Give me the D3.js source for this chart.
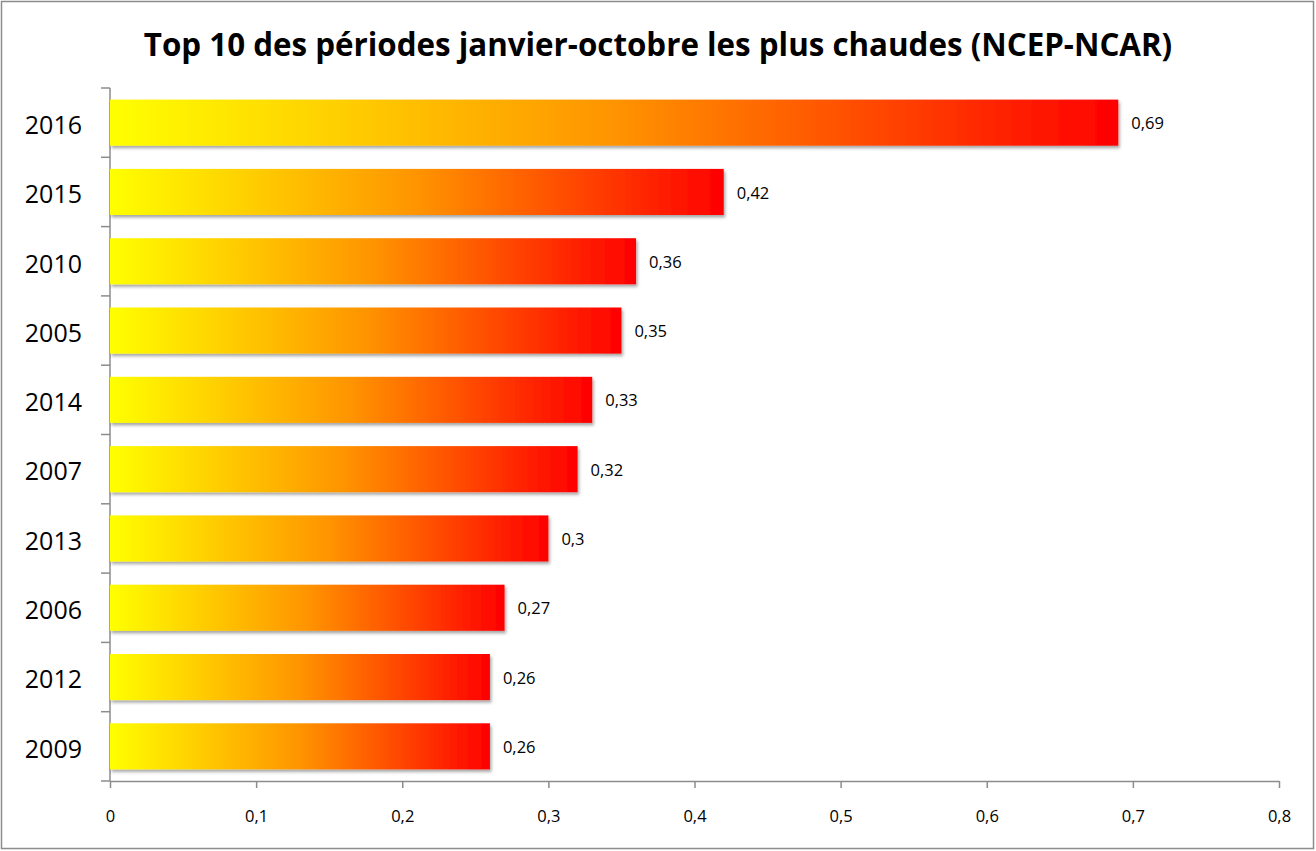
<!DOCTYPE html>
<html>
<head>
<meta charset="utf-8">
<script src="https://cdn.jsdelivr.net/npm/d3@7"></script>
<style>
  body { margin: 0; background: #fff; }
  text { font-family: "Open Sans", "Liberation Sans", sans-serif; fill: #000; }
</style>
</head>
<body>
<div class="chart"></div>
<script>
// data
const years = ['2016', '2015', '2010', '2005', '2014', '2007', '2013', '2006', '2012', '2009'];
const anomalies = [0.69, 0.42, 0.36, 0.35, 0.33, 0.32, 0.30, 0.27, 0.26, 0.26];
const xTicks = [0, 0.1, 0.2, 0.3, 0.4, 0.5, 0.6, 0.7, 0.8];
const title = 'Top 10 des périodes janvier-octobre les plus chaudes (NCEP-NCAR)';

const W = 1316, H = 851;
const margin = ({top: 88, bottom: 70, left: 110, right: 37});
const width = W - margin.left - margin.right;
const height = H - margin.top - margin.bottom;

const fr = d3.formatLocale({decimal: ',', thousands: ' ', grouping: [3], currency: ['', ' €']});
const fmt = fr.format('~g');

const data = years.map((y, i) => ({year: y, value: anomalies[i]}));

const root = d3.select('.chart')
  .append('svg')
  .attr('width', W)
  .attr('height', H);

// outer frame
root.append('rect')
  .attr('x', 1.5).attr('y', 1.5)
  .attr('width', W - 4).attr('height', H - 4)
  .attr('fill', 'none')
  .attr('stroke', '#8c8c8c')
  .attr('stroke-width', 1.5);

const defs = root.append('defs');
const grad = defs.append('linearGradient')
  .attr('id', 'barGrad')
  .attr('x1', '0%').attr('x2', '100%')
  .attr('y1', '0%').attr('y2', '0%');
grad.append('stop').attr('offset', '0%').attr('stop-color', '#ffff00');
grad.append('stop').attr('offset', '50%').attr('stop-color', '#ff9400');
grad.append('stop').attr('offset', '100%').attr('stop-color', '#ff0000');

const shadow = defs.append('filter')
  .attr('id', 'shadow')
  .attr('x', '-5%').attr('y', '-20%')
  .attr('width', '115%').attr('height', '150%');
shadow.append('feDropShadow')
  .attr('dx', 1.5).attr('dy', 2.5)
  .attr('stdDeviation', 1.6)
  .attr('flood-color', '#000')
  .attr('flood-opacity', 0.35);

// title, sized to span the same width as the original
const t = root.append('text')
  .attr('x', 658).attr('y', 56)
  .attr('text-anchor', 'middle')
  .attr('font-weight', 'bold')
  .attr('font-size', 30)
  .text(title);
const tw = t.node().getComputedTextLength();
t.attr('font-size', 30 * 1029 / tw);

const svg = root.append('g')
  .attr('transform', `translate(${margin.left},${margin.top})`);

const xScale = d3.scaleLinear()
  .domain([0, 0.8])
  .range([0, width]);

const yScale = d3.scaleBand()
  .domain(years)
  .range([0, height])
  .paddingInner(0.335)
  .paddingOuter(0.1675);

// axes
const xAxis = d3.axisBottom(xScale)
  .tickValues(xTicks)
  .tickFormat(fmt)
  .tickSizeInner(7)
  .tickSizeOuter(0)
  .tickPadding(22);

svg.append('g')
  .attr('class', 'x-axis')
  .attr('transform', `translate(0, ${height})`)
  .call(xAxis);

// y axis: ticks sit on the band boundaries
const bounds = years.map(y => yScale(y) - yScale.step() * yScale.paddingInner() / 2);
bounds.push(height);

const yAx = svg.append('g').attr('class', 'y-axis');
yAx.append('line')
  .attr('x1', 0).attr('x2', 0)
  .attr('y1', 0).attr('y2', height)
  .attr('stroke', '#8c8c8c')
  .attr('stroke-width', 1.5);
yAx.selectAll('.ytick')
  .data(bounds)
  .enter()
  .append('line')
  .attr('class', 'ytick')
  .attr('x1', -9).attr('x2', 0)
  .attr('y1', d => d).attr('y2', d => d)
  .attr('stroke', '#8c8c8c')
  .attr('stroke-width', 1.5);
yAx.selectAll('.ylabel')
  .data(years)
  .enter()
  .append('text')
  .attr('class', 'ylabel')
  .attr('x', -28)
  .attr('y', d => yScale(d) + yScale.bandwidth() / 2)
  .attr('dy', '0.45em')
  .attr('text-anchor', 'end')
  .attr('font-size', 25)
  .text(d => d);

svg.selectAll('.x-axis path, .x-axis line')
  .attr('stroke', '#8c8c8c')
  .attr('stroke-width', 1.5);
svg.selectAll('.x-axis text')
  .attr('font-size', 16.5)
  .attr('font-family', '"Open Sans", sans-serif');

// bars
svg.selectAll('.bar')
  .data(data)
  .enter()
  .append('rect')
  .attr('class', 'bar')
  .attr('x', xScale(0))
  .attr('y', d => yScale(d.year))
  .attr('width', d => xScale(d.value) - xScale(0))
  .attr('height', yScale.bandwidth())
  .attr('fill', 'url(#barGrad)')
  .attr('filter', 'url(#shadow)');

// value labels
svg.selectAll('.val')
  .data(data)
  .enter()
  .append('text')
  .attr('class', 'val')
  .attr('x', d => xScale(d.value) + 13)
  .attr('y', d => yScale(d.year) + yScale.bandwidth() / 2)
  .attr('dy', '0.4em')
  .attr('font-size', 16.5)
  .text(d => fmt(d.value));
</script>
</body>
</html>
